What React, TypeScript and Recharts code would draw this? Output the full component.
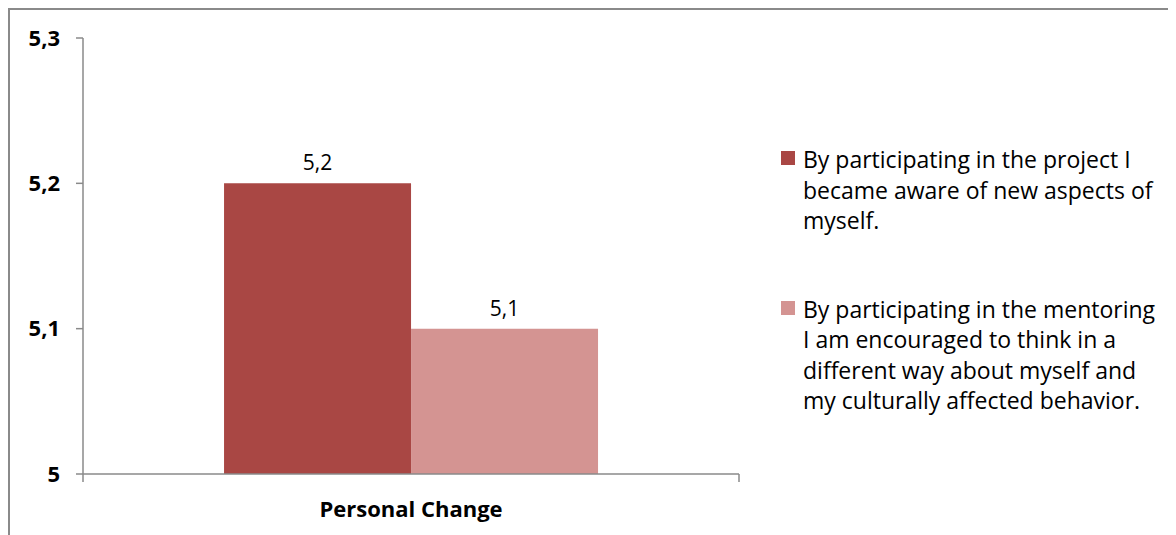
import { BarChart, Bar, XAxis, YAxis, LabelList } from 'recharts';

const categories = ['Personal Change'];
const projectScores = [5.2];
const mentoringScores = [5.1];
const yTicks = [5, 5.1, 5.2, 5.3];
const seriesNames = [
  'By participating in the project I became aware of new aspects of myself.',
  'By participating in the mentoring I am encouraged to think in a different way about myself and my culturally affected behavior.',
];
const seriesColors = ['#A94744', '#D49492'];

const data = categories.map((c, i) => ({
  category: c,
  project: projectScores[i],
  mentoring: mentoringScores[i],
}));

const FONT = '"Open Sans", "Noto Sans", sans-serif';
const AXIS = '#8a8a8a';
const comma = (v: number) => String(v).replace('.', ',');

// category label plus Excel-style tick marks on the band edges
function CategoryTick(props: any) {
  const { x, y, payload } = props;
  const half = payload?.offset ?? 0;
  return (
    <g>
      <line x1={x - half} x2={x - half} y1={y} y2={y + 8} stroke={AXIS} strokeWidth={1.5} />
      <line x1={x + half} x2={x + half} y1={y} y2={y + 8} stroke={AXIS} strokeWidth={1.5} />
      <text
        x={x}
        y={y + 34}
        textAnchor="middle"
        dominantBaseline="central"
        fill="#000"
        fontSize={22}
        fontWeight={700}
        fontFamily={FONT}
      >
        {payload.value}
      </text>
    </g>
  );
}

export default function App() {
  return (
    <div
      style={{
        position: 'relative',
        width: 1180,
        height: 540,
        borderLeft: `2px solid ${AXIS}`,
        borderTop: `2px solid ${AXIS}`,
        boxSizing: 'border-box',
        fontFamily: FONT,
      }}
    >
      <div style={{ position: 'absolute', left: -2, top: -2 }}>
        <BarChart
          width={1168}
          height={527}
          data={data}
          margin={{ top: 30, right: 437, bottom: 0, left: 0 }}
          barCategoryGap="21.5%"
          barGap={0}
        >
          <XAxis
            dataKey="category"
            height={61}
            axisLine={{ stroke: AXIS, strokeWidth: 1.5 }}
            tickLine={false}
            tickSize={0}
            tickMargin={0}
            tick={<CategoryTick />}
          />
          <YAxis
            width={75}
            domain={[5, 5.3]}
            ticks={yTicks}
            allowDataOverflow
            tickFormatter={comma}
            axisLine={{ stroke: AXIS, strokeWidth: 1.5 }}
            tickLine={{ stroke: AXIS, strokeWidth: 1.5 }}
            tickSize={7}
            tickMargin={16}
            tick={{ fill: '#000', fontSize: 22, fontWeight: 700, fontFamily: FONT }}
          />
          <Bar dataKey="project" fill={seriesColors[0]} isAnimationActive={false}>
            <LabelList
              dataKey="project"
              position="top"
              offset={13}
              formatter={(v: number) => comma(v)}
              style={{ fill: '#000', fontSize: 21, fontFamily: FONT }}
            />
          </Bar>
          <Bar dataKey="mentoring" fill={seriesColors[1]} isAnimationActive={false}>
            <LabelList
              dataKey="mentoring"
              position="top"
              offset={13}
              formatter={(v: number) => comma(v)}
              style={{ fill: '#000', fontSize: 21, fontFamily: FONT }}
            />
          </Bar>
        </BarChart>
      </div>
      <div
        style={{
          position: 'absolute',
          left: 771,
          top: 134,
          width: 400,
          fontSize: 23,
          lineHeight: '30.5px',
          color: '#000',
        }}
      >
        {seriesNames.map((name, i) => (
          <div key={name} style={{ display: 'flex', marginBottom: i === 0 ? 58 : 0 }}>
            <span
              style={{
                width: 14,
                height: 14,
                background: seriesColors[i],
                marginTop: 7,
                marginRight: 8,
                flex: 'none',
              }}
            />
            <span style={{ width: 362 }}>{name}</span>
          </div>
        ))}
      </div>
    </div>
  );
}
